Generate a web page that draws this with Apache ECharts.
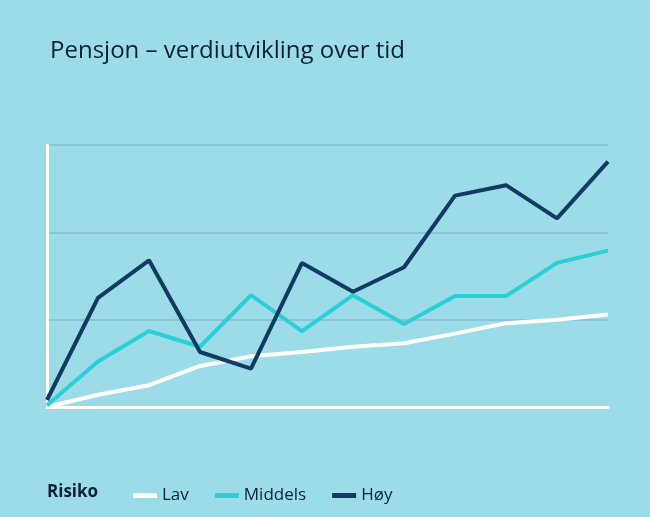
<!DOCTYPE html>
<html>
<head>
<meta charset="utf-8">
<script src="https://cdn.jsdelivr.net/npm/echarts@6/dist/echarts.min.js"></script>
<style>html,body{margin:0;padding:0;background:#9bdce8}#chart{width:650px;height:517px}</style>
</head>
<body>
<div id="chart"></div>
<script>
const periods = ['1','2','3','4','5','6','7','8','9','10','11','12'];
const lav = [0, 0.14, 0.25, 0.47, 0.58, 0.63, 0.69, 0.73, 0.84, 0.96, 1.0, 1.06];
const middels = [0.02, 0.52, 0.87, 0.69, 1.28, 0.87, 1.28, 0.95, 1.27, 1.27, 1.65, 1.79];
const hoy = [0.08, 1.25, 1.68, 0.63, 0.44, 1.65, 1.32, 1.60, 2.42, 2.54, 2.16, 2.81];

const navy = '#123a63';
const chart = echarts.init(document.getElementById('chart'));
chart.setOption({
  backgroundColor: '#9bdce8',
  animation: false,
  title: {
    text: 'Pensjon – verdiutvikling over tid',
    left: 45, top: 34,
    textStyle: { color: '#0e2236', fontSize: 24, fontWeight: 'normal', fontFamily: 'Open Sans' }
  },
  graphic: [{
    type: 'text', left: 47, top: 484,
    style: { text: 'Risiko', fill: '#0e2236', font: 'bold 17px Open Sans' }
  }],
  legend: {
    left: 128, top: 482,
    icon: 'rect', itemWidth: 24, itemHeight: 5, itemGap: 26,
    textStyle: { color: '#0e2236', fontSize: 17, fontFamily: 'Open Sans' },
    data: ['Lav', 'Middels', 'Høy']
  },
  grid: { left: 47, right: 42, top: 145, bottom: 110 },
  xAxis: {
    type: 'category', data: periods, boundaryGap: false,
    axisLine: { lineStyle: { color: '#fff', width: 3 } },
    axisTick: { show: false }, axisLabel: { show: false }
  },
  yAxis: {
    type: 'value', min: 0, max: 3, interval: 1,
    axisLine: { show: true, lineStyle: { color: '#fff', width: 3 } },
    axisLabel: { show: false },
    splitLine: { lineStyle: { color: '#86bccf', width: 1.5 } }
  },
  series: [
    { name: 'Lav', type: 'line', data: lav, symbol: 'none', lineStyle: { color: '#ffffff', width: 4 }, itemStyle: { color: '#ffffff' } },
    { name: 'Middels', type: 'line', data: middels, symbol: 'none', lineStyle: { color: '#2bcfd6', width: 4 }, itemStyle: { color: '#2bcfd6' } },
    { name: 'Høy', type: 'line', data: hoy, symbol: 'none', lineStyle: { color: navy, width: 4 }, itemStyle: { color: navy } }
  ]
});
</script>
</body>
</html>
